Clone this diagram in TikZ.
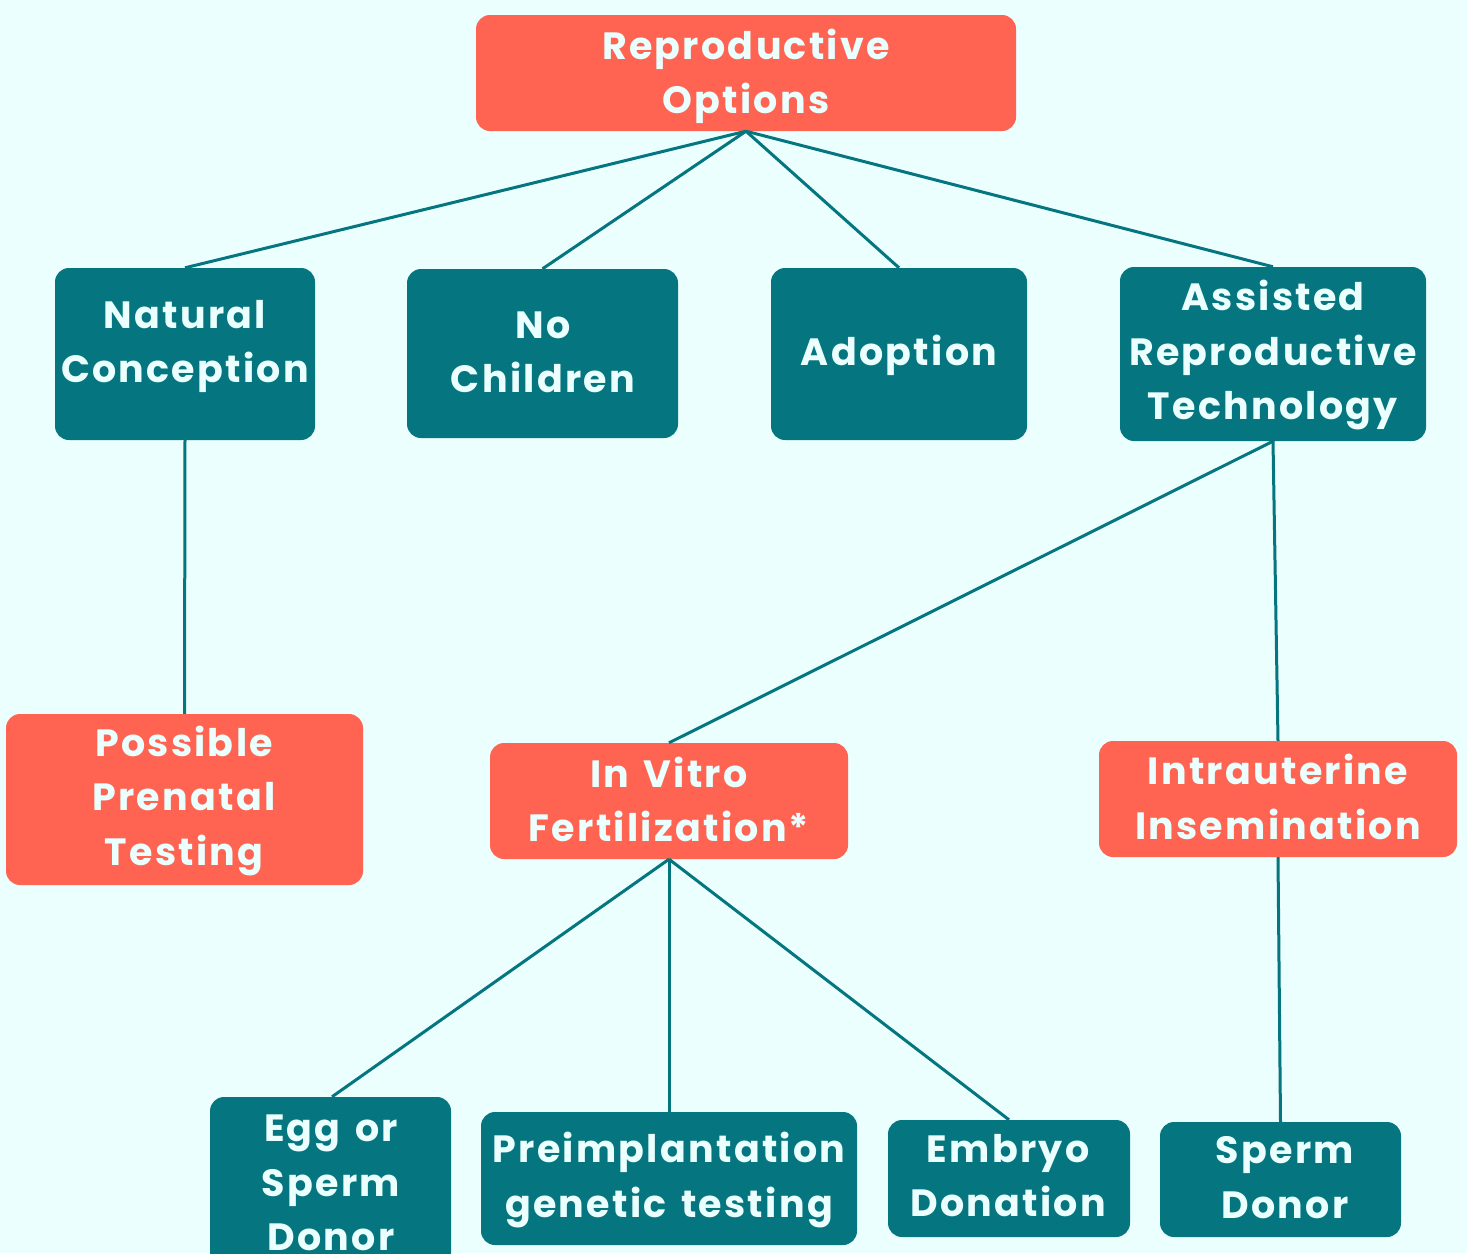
\documentclass[tikz,border=0pt]{standalone}
\usepackage{fontspec}
\setmainfont{Poppins}[LetterSpace=6, WordSpace=1.4]
\definecolor{bgc}{HTML}{EAFFFE}
\definecolor{tealc}{HTML}{05767F}
\definecolor{coralc}{HTML}{FF6453}
\definecolor{txtc}{HTML}{EAFFFE}
\tikzset{
  boxbase/.style={rounded corners=14pt, inner sep=0pt, draw=none},
  tbox/.style={boxbase, fill=tealc},
  cbox/.style={boxbase, fill=coralc},
  lbl/.style={text=txtc, align=center, inner sep=0pt, font=\fontsize{38}{54.5}\selectfont\bfseries},
  edge/.style={draw=tealc, line width=3pt}
}
\begin{document}
\begin{tikzpicture}[x=1pt,y=-1pt]
\fill[bgc] (0,0) rectangle (1467,1253);
\useasboundingbox (0,0) rectangle (1467,1253);
% boxes
\node[cbox, minimum width=540pt, minimum height=116pt] (root) at (746,73) {};
\node[tbox, minimum width=260pt, minimum height=172pt] (nc) at (185,354) {};
\node[tbox, minimum width=271pt, minimum height=169pt] (noc) at (542.5,353.5) {};
\node[tbox, minimum width=256pt, minimum height=172pt] (ado) at (899,354) {};
\node[tbox, minimum width=306pt, minimum height=174pt] (art) at (1273,354) {};
\node[cbox, minimum width=357pt, minimum height=171pt] (ppt) at (184.5,799.5) {};
\node[cbox, minimum width=358pt, minimum height=116pt] (ivf) at (669,801) {};
\node[cbox, minimum width=358pt, minimum height=116pt] (iui) at (1278,799) {};
\node[tbox, minimum width=241pt, minimum height=170pt] (egg) at (330.5,1182) {};
\node[tbox, minimum width=376pt, minimum height=133pt] (pgt) at (669,1178.5) {};
\node[tbox, minimum width=242pt, minimum height=117pt] (emb) at (1009,1178.5) {};
\node[tbox, minimum width=241pt, minimum height=115pt] (spd) at (1280.5,1179.5) {};
% labels
\node[lbl] (troot) at (746,76.5) {Reproductive\\Options};
\node[lbl] (tnc) at (185,346.5) {Natural\\Conception};
\node[lbl] (tnoc) at (543,352.5) {No\\Children};
\node[lbl] (tado) at (899,355) {Adoption};
\node[lbl] (tart) at (1273,355.5) {Assisted\\Reproductive\\Technology};
\node[lbl] (tppt) at (184,800.5) {Possible\\Prenatal\\Testing};
\node[lbl] (tivf) at (669,799.5) {In Vitro\\Fertilization*};
\node[lbl] (tiui) at (1278,797) {Intrauterine\\Insemination};
\node[lbl] (tegg) at (331,1183) {Egg or\\Sperm\\Donor};
\node[lbl] (tpgt) at (669,1180) {Preimplantation\\genetic testing};
\node[lbl] (temb) at (1008,1175.5) {Embryo\\Donation};
\node[lbl] (tspd) at (1285,1177.5) {Sperm\\Donor};
% connectors
\draw[edge] (root.south) -- (nc.north);
\draw[edge] (root.south) -- (noc.north);
\draw[edge] (root.south) -- (ado.north);
\draw[edge] (root.south) -- (art.north);
\draw[edge] (nc.south) -- (ppt.north);
\draw[edge] (art.south) -- (ivf.north);
\draw[edge] (art.south) -- (iui.north);
\draw[edge] (ivf.south) -- ([xshift=1.5pt]egg.north);
\draw[edge] (ivf.south) -- (pgt.north);
\draw[edge] (ivf.south) -- (emb.north);
\draw[edge] (iui.south) -- (spd.north);
\end{tikzpicture}
\end{document}
